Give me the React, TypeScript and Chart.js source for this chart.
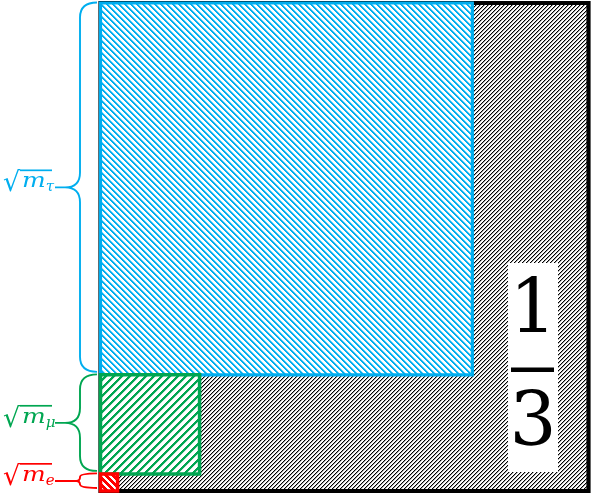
import React, { useEffect, useRef } from "react";
import { Chart, registerables } from "chart.js";

Chart.register(...registerables);

// ---- data ----
const leptons = ["e", "μ", "τ"];
const sqrtMass = [1.75, 10.15, 38.1];
const leptonColors = ["#FF0000", "#00A651", "#00AEEF"];
const outerColor = "#000000";
const fractionNumerator = "1";
const fractionDenominator = "3";

// ---- geometry derived from data ----
type Sq = { y0: number; s: number };
const squares: Sq[] = [];
let acc = 0;
for (const s of sqrtMass) {
  squares.push({ y0: acc, s });
  acc += s;
}
const totalSide = acc;

function squarePath(x0: number, y0: number, s: number) {
  return [
    { x: x0, y: y0 },
    { x: x0 + s, y: y0 },
    { x: x0 + s, y: y0 + s },
    { x: x0, y: y0 + s },
    { x: x0, y: y0 },
  ];
}

function hexToRgb(hex: string) {
  const v = parseInt(hex.slice(1), 16);
  return [(v >> 16) & 255, (v >> 8) & 255, v & 255];
}

// crisp (pixel-aligned) diagonal hatch with white background
function makeHatch(color: string, p: number, w: number, dir: "/" | "\\") {
  const c = document.createElement("canvas");
  c.width = p;
  c.height = p;
  const g = c.getContext("2d")!;
  const img = g.createImageData(p, p);
  const [r, gg, b] = hexToRgb(color);
  for (let y = 0; y < p; y++) {
    for (let x = 0; x < p; x++) {
      const t = dir === "/" ? (x + y) % p : (((x - y) % p) + p) % p;
      const cov = Math.max(0, Math.min(1, w - t));
      const i = (y * p + x) * 4;
      img.data[i] = Math.round(255 + (r - 255) * cov);
      img.data[i + 1] = Math.round(255 + (gg - 255) * cov);
      img.data[i + 2] = Math.round(255 + (b - 255) * cov);
      img.data[i + 3] = 255;
    }
  }
  g.putImageData(img, 0, 0);
  return g.createPattern(c, "repeat")!;
}

function drawBrace(ctx: CanvasRenderingContext2D, yTop: number, yBot: number, yMid: number, color: string) {
  const xEnd = 97;
  const xMid = 80;
  const xTip = 55;
  const h = yBot - yTop;
  const r = Math.min(15, h / 4);
  ctx.save();
  ctx.strokeStyle = color;
  ctx.lineWidth = 1.9;
  ctx.lineJoin = "round";
  ctx.beginPath();
  ctx.moveTo(xEnd, yTop);
  ctx.quadraticCurveTo(xMid, yTop, xMid, yTop + r);
  ctx.lineTo(xMid, yMid - r);
  ctx.quadraticCurveTo(xMid, yMid, xMid - r, yMid);
  ctx.lineTo(xTip, yMid);
  ctx.moveTo(xMid - r, yMid);
  ctx.quadraticCurveTo(xMid, yMid, xMid, yMid + r);
  ctx.lineTo(xMid, yBot - r);
  ctx.quadraticCurveTo(xMid, yBot, xEnd, yBot);
  ctx.stroke();
  ctx.restore();
}

function drawLabel(ctx: CanvasRenderingContext2D, sub: string, yBase: number, color: string) {
  const x0 = 3;
  ctx.save();
  ctx.fillStyle = color;
  ctx.strokeStyle = color;
  ctx.textAlign = "left";
  ctx.textBaseline = "alphabetic";
  ctx.font = "27px 'DejaVu Serif'";
  const rm = ctx.measureText("√");
  ctx.fillText("√", x0, yBase + 4);
  const rootRight = x0 + rm.actualBoundingBoxRight;
  const rootTop = yBase + 4 - rm.actualBoundingBoxAscent;
  ctx.font = "italic 20px 'DejaVu Serif'";
  const sx = 1.25;
  const mw = ctx.measureText("m").width * sx;
  ctx.save();
  ctx.translate(rootRight + 1, yBase);
  ctx.scale(sx, 1);
  ctx.fillText("m", 0, 0);
  ctx.restore();
  ctx.font = "italic 15px 'DejaVu Serif'";
  ctx.fillText(sub, rootRight + 1 + mw, yBase + 4);
  ctx.lineWidth = 1.7;
  ctx.beginPath();
  ctx.moveTo(rootRight - 1, rootTop + 0.9);
  ctx.lineTo(52, rootTop + 0.9);
  ctx.stroke();
  ctx.restore();
}

const annotate = {
  id: "annotate",
  afterDraw(chart: any) {
    const { ctx } = chart;
    const y = chart.scales.y;
    squares.forEach((sq, i) => {
      const top = y.getPixelForValue(sq.y0 + sq.s);
      const bot = y.getPixelForValue(sq.y0);
      const mid = (top + bot) / 2 - 1.5;
      drawBrace(ctx, top - 0.5, bot - 3, mid, leptonColors[i]);
      drawLabel(ctx, leptons[i], mid, leptonColors[i]);
    });
    // fraction 1/3 box
    ctx.save();
    ctx.fillStyle = "#ffffff";
    ctx.fillRect(508, 263, 50, 209);
    ctx.fillStyle = "#000000";
    ctx.textAlign = "center";
    ctx.textBaseline = "alphabetic";
    ctx.font = "74px 'DejaVu Serif'";
    ctx.fillText(fractionNumerator, 533, 332);
    ctx.fillText(fractionDenominator, 533, 445);
    ctx.fillRect(511, 367.5, 43, 4.5);
    ctx.restore();
  },
};

export default function App() {
  const ref = useRef<HTMLCanvasElement>(null);
  useEffect(() => {
    const canvas = ref.current!;
    const patterns = [
      makeHatch(leptonColors[0], 7, 4, "\\"),
      makeHatch(leptonColors[1], 8, 3.2, "/"),
      makeHatch(leptonColors[2], 6, 2.5, "\\"),
    ];
    const outerPattern = makeHatch(outerColor, 4, 1.35, "/");
    const widths = [3.5, 3.5, 3.2];
    const datasets: any[] = squares.map((sq, i) => ({
      label: leptons[i],
      data: squarePath(0, sq.y0, sq.s),
      showLine: true,
      fill: "shape",
      backgroundColor: patterns[i],
      borderColor: leptonColors[i],
      borderWidth: widths[i],
      borderJoinStyle: "miter",
      borderCapStyle: "square",
      pointRadius: 0,
      tension: 0,
    }));
    datasets.push({
      label: "total",
      data: squarePath(0, 0, totalSide),
      showLine: true,
      fill: "shape",
      backgroundColor: outerPattern,
      borderColor: outerColor,
      borderWidth: 4.2,
      borderJoinStyle: "miter",
      borderCapStyle: "square",
      pointRadius: 0,
      tension: 0,
    });
    const chart = new Chart(canvas, {
      type: "scatter",
      data: { datasets },
      options: {
        animation: false,
        responsive: false,
        events: [],
        layout: { padding: 0 },
        plugins: { legend: { display: false }, tooltip: { enabled: false } },
        scales: {
          x: { type: "linear", display: false, min: -10.297, max: 50.461 },
          y: { type: "linear", display: false, min: -0.615, max: 50.307 },
        },
      },
      plugins: [annotate],
    });
    return () => chart.destroy();
  }, []);
  return (
    <div style={{ position: "absolute", left: 0, top: 0, width: 593, height: 497, background: "#ffffff" }}>
      <canvas ref={ref} width={593} height={497} style={{ display: "block" }} />
    </div>
  );
}
